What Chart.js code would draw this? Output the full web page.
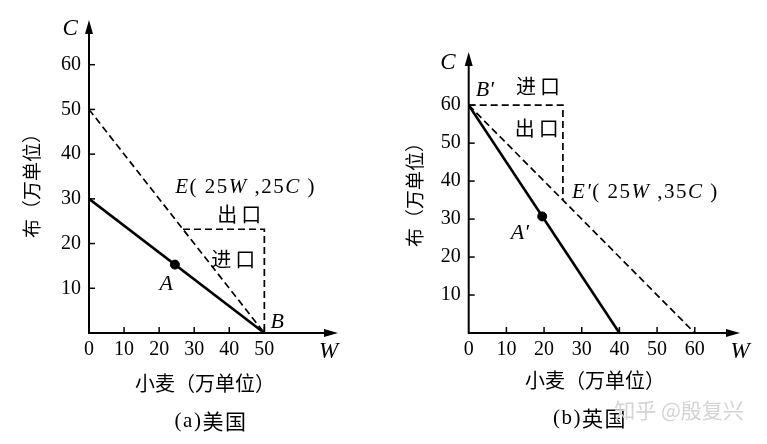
<!DOCTYPE html>
<html><head><meta charset="utf-8">
<script src="https://cdn.jsdelivr.net/npm/chart.js@4/dist/chart.umd.min.js"></script>
<style>
html,body{margin:0;padding:0;background:#fff;}
#wrap{position:relative;width:767px;height:444px;overflow:hidden;background:#fff;}
.box{position:absolute;top:0;height:444px;}
#b1{left:0;width:383px;} #b2{left:383px;width:384px;}
</style></head><body>
<div id="wrap"><div class="box" id="b1"><canvas id="c1"></canvas></div><div class="box" id="b2"><canvas id="c2"></canvas></div></div>
<script>
// ---- data: (a) 美国 ----
const usTicksW = [0, 10, 20, 30, 40, 50];
const usTicksC = [10, 20, 30, 40, 50, 60];
const usSolidW = [0, 50];
const usSolidC = [30, 0];
const usDashW = [0, 50];
const usDashC = [50, 0];
const usTradeW = [26.8, 50, 50];
const usTradeC = [23.2, 23.2, 0];
const usPointW = [24.5];
const usPointC = [15.3];
// ---- data: (b) 英国 ----
const ukTicksW = [0, 10, 20, 30, 40, 50, 60];
const ukTicksC = [10, 20, 30, 40, 50, 60];
const ukSolidW = [0, 40];
const ukSolidC = [60, 0];
const ukDashW = [0, 60];
const ukDashC = [60, 0];
const ukTradeW = [0, 25, 25];
const ukTradeC = [60, 60, 35];
const ukPointW = [19.5];
const ukPointC = [30.7];

const SERIF = '"Liberation Serif","DejaVu Serif",serif';
const CJK = '"Noto Sans CJK SC","Noto Sans CJK JP",sans-serif';

function pts(xs, ys) { return xs.map((v, i) => ({ x: v, y: ys[i] })); }

function fontOf(kind, size) {
  if (kind === 'i') return 'italic ' + size + 'px ' + SERIF;
  if (kind === 'c') return size + 'px ' + CJK;
  return size + 'px ' + SERIF;
}
// segs: [[text, kind]]
function drawRich(ctx, segs, x, y, align, size, color, rot, spacing) {
  ctx.save();
  ctx.fillStyle = color || '#000';
  ctx.textBaseline = 'middle';
  ctx.textAlign = 'left';
  ctx.letterSpacing = (spacing || 0) + 'px';
  let total = 0;
  const ws = segs.map(s => { ctx.font = fontOf(s[1], size); const w = ctx.measureText(s[0]).width; total += w; return w; });
  ctx.translate(x, y);
  if (rot) ctx.rotate(rot);
  let cx = align === 'center' ? -total / 2 : (align === 'right' ? -total : 0);
  segs.forEach((s, i) => { ctx.font = fontOf(s[1], size); ctx.fillText(s[0], cx, 0); cx += ws[i]; });
  ctx.restore();
}

const deco = {
  id: 'deco',
  afterDraw(chart, args, o) {
    const ctx = chart.ctx, xs = chart.scales.x, ys = chart.scales.y, a = chart.chartArea;
    const X = v => xs.getPixelForValue(v), Y = v => ys.getPixelForValue(v);
    const x0 = X(0), y0 = Y(0);
    ctx.save();
    ctx.strokeStyle = '#000'; ctx.fillStyle = '#000'; ctx.lineWidth = 2; ctx.setLineDash([]);
    ctx.beginPath(); ctx.moveTo(x0, y0); ctx.lineTo(a.right - 6, y0); ctx.stroke();
    ctx.beginPath(); ctx.moveTo(a.right, y0); ctx.lineTo(a.right - 14, y0 - 4); ctx.lineTo(a.right - 14, y0 + 4); ctx.closePath(); ctx.fill();
    ctx.beginPath(); ctx.moveTo(x0, y0 + 1); ctx.lineTo(x0, a.top + 6); ctx.stroke();
    ctx.beginPath(); ctx.moveTo(x0, a.top); ctx.lineTo(x0 - 4, a.top + 14); ctx.lineTo(x0 + 4, a.top + 14); ctx.closePath(); ctx.fill();
    ctx.lineWidth = 1.5;
    o.ticksW.forEach(v => { if (v === 0) return; ctx.beginPath(); ctx.moveTo(X(v), y0); ctx.lineTo(X(v), y0 - 6); ctx.stroke(); });
    o.ticksC.forEach(v => { ctx.beginPath(); ctx.moveTo(x0, Y(v)); ctx.lineTo(x0 + 6, Y(v)); ctx.stroke(); });
    ctx.restore();
    (o.labels || []).forEach(t => drawRich(ctx, t.segs, X(t.w), Y(t.c), t.align || 'center', t.size || 21, t.color, 0, t.sp));
    (o.titles || []).forEach(t => drawRich(ctx, t.segs, t.px, t.py, 'center', t.size || 19, t.color, t.rot, t.sp));
  }
};

function makeChart(id, cfg) {
  const tickFont = { family: SERIF, size: 20 };
  return new Chart(document.getElementById(id), {
    type: 'scatter',
    data: {
      datasets: [
        { data: pts(cfg.dashW, cfg.dashC), showLine: true, borderColor: '#000', borderWidth: 1.7, borderDash: [7, 4], pointRadius: 0 },
        { data: pts(cfg.tradeW, cfg.tradeC), showLine: true, borderColor: '#000', borderWidth: 1.7, borderDash: [7, 4], pointRadius: 0 },
        { data: pts(cfg.solidW, cfg.solidC), showLine: true, borderColor: '#000', borderWidth: 2.6, pointRadius: 0 },
        { data: pts(cfg.pointW, cfg.pointC), showLine: false, pointRadius: 4.5, pointBackgroundColor: '#000', pointBorderColor: '#000' }
      ]
    },
    options: {
      responsive: true, maintainAspectRatio: false, animation: false, events: [],
      layout: { padding: { left: 0, right: cfg.padR, top: cfg.padT, bottom: 0 } },
      plugins: { legend: { display: false }, tooltip: { enabled: false }, deco: cfg.deco },
      scales: {
        x: {
          type: 'linear', min: 0, max: cfg.xMax, position: 'bottom',
          border: { display: false }, grid: { display: false, drawTicks: false },
          ticks: { font: tickFont, color: '#000', padding: 5, maxRotation: 0, autoSkip: false },
          afterBuildTicks: s => { s.ticks = cfg.ticksW.map(v => ({ value: v })); },
          afterFit: s => { s.height = 444 - cfg.axisY; }
        },
        y: {
          type: 'linear', min: 0, max: cfg.yMax, position: 'left',
          border: { display: false }, grid: { display: false, drawTicks: false },
          ticks: { font: tickFont, color: '#000', padding: 8, autoSkip: false },
          afterBuildTicks: s => { s.ticks = cfg.ticksC.map(v => ({ value: v })); },
          afterFit: s => { s.width = cfg.axisX; }
        }
      }
    },
    plugins: [deco]
  });
}

makeChart('c1', {
  dashW: usDashW, dashC: usDashC, tradeW: usTradeW, tradeC: usTradeC,
  solidW: usSolidW, solidC: usSolidC, pointW: usPointW, pointC: usPointC,
  ticksW: usTicksW, ticksC: usTicksC,
  xMax: 71, yMax: 70, axisX: 89, axisY: 333, padR: 45, padT: 15,
  deco: {
    ticksW: usTicksW, ticksC: usTicksC,
    labels: [
      { segs: [['C', 'i']], w: -5.4, c: 68, size: 23 },
      { segs: [['W', 'i']], w: 68.3, c: -4.2, size: 23 },
      { segs: [['E', 'i'], ['( 25', 's'], ['W', 'i'], [' ,25', 's'], ['C', 'i'], [' )', 's']], w: 24.6, c: 32.6, align: 'left', sp: 1.5 },
      { segs: [['出口', 'c']], w: 43.4, c: 26.5, size: 20, sp: 4 },
      { segs: [['进口', 'c']], w: 41.7, c: 16.5, size: 20, sp: 4 },
      { segs: [['A', 'i']], w: 22, c: 11, size: 22 },
      { segs: [['B', 'i']], w: 53.7, c: 2.4, size: 22 }
    ],
    titles: [
      { segs: [['小麦（万单位）', 'c']], px: 205, py: 383, size: 20 },
      { segs: [['(a)', 's'], ['美国', 'c']], px: 211, py: 421, size: 21, sp: 1.5 },
      { segs: [['布（万单位）', 'c']], px: 32, py: 181, rot: -Math.PI / 2 }
    ]
  }
});

makeChart('c2', {
  dashW: ukDashW, dashC: ukDashC, tradeW: ukTradeW, tradeC: ukTradeC,
  solidW: ukSolidW, solidC: ukSolidC, pointW: ukPointW, pointC: ukPointC,
  ticksW: ukTicksW, ticksC: ukTicksC,
  xMax: 72, yMax: 74, axisX: 85.7, axisY: 333, padR: 27, padT: 52,
  deco: {
    ticksW: ukTicksW, ticksC: ukTicksC,
    labels: [
      { segs: [['C', 'i']], w: -5.5, c: 71, size: 23 },
      { segs: [['W', 'i']], w: 72, c: -5, size: 23 },
      { segs: [['B′', 'i']], w: 4.3, c: 63.9, size: 22 },
      { segs: [['进口', 'c']], w: 18.9, c: 65, size: 20, sp: 4 },
      { segs: [['出口', 'c']], w: 18.6, c: 54, size: 20, sp: 4 },
      { segs: [['E′', 'i'], ['( 25', 's'], ['W', 'i'], [' ,35', 's'], ['C', 'i'], [' )', 's']], w: 27.4, c: 37.1, align: 'left', sp: 1.5 },
      { segs: [['A′', 'i']], w: 13.6, c: 26.3, size: 22 }
    ],
    titles: [
      { segs: [['小麦（万单位）', 'c']], px: 212, py: 380, size: 20 },
      { segs: [['(b)', 's'], ['英国', 'c']], px: 207, py: 418, size: 21, sp: 1.5 },
      { segs: [['布（万单位）', 'c']], px: 32, py: 190, rot: -Math.PI / 2 },
      { segs: [['知乎 @殷复兴', 'c']], px: 296, py: 410, size: 21, color: '#d4d4d4' }
    ]
  }
});
</script>
</body></html>
